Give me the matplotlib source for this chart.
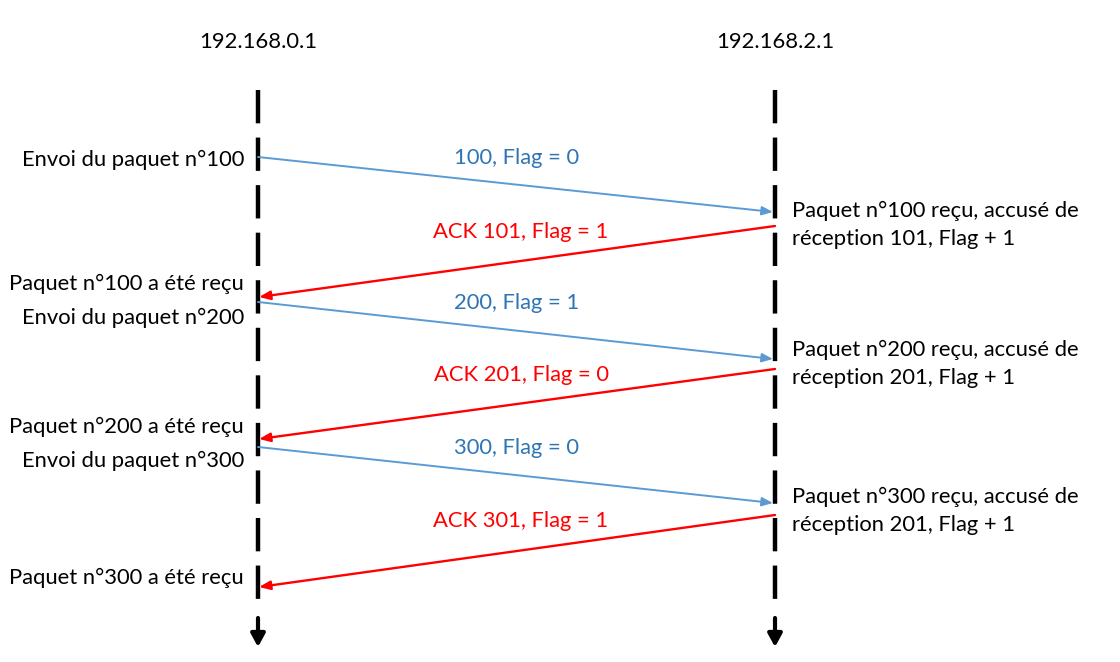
import matplotlib
matplotlib.use("Agg")
import matplotlib.pyplot as plt

hosts = ["192.168.0.1", "192.168.2.1"]
host_x = [258, 775]

# messages: direction (0 -> left to right, 1 -> right to left), send time, receive time
msg_labels = ["100, Flag = 0", "ACK 101, Flag = 1", "200, Flag = 1",
              "ACK 201, Flag = 0", "300, Flag = 0", "ACK 301, Flag = 1"]
msg_dir = [0, 1, 0, 1, 0, 1]
msg_start = [157, 226, 302, 369, 447, 515]
msg_end = [212, 297, 359, 439, 503, 587]

left_notes = ["Envoi du paquet n°100", "Paquet n°100 a été reçu", "Envoi du paquet n°200",
              "Paquet n°200 a été reçu", "Envoi du paquet n°300", "Paquet n°300 a été reçu"]
left_note_y = [160, 284, 318, 427, 461, 578]

right_notes = ["Paquet n°100 reçu, accusé de\nréception 101, Flag + 1",
               "Paquet n°200 reçu, accusé de\nréception 201, Flag + 1",
               "Paquet n°300 reçu, accusé de\nréception 201, Flag + 1"]
right_note_y = [225, 364, 511]

BLUE_LINE = "#5B9BD5"
BLUE_TEXT = "#2E75B6"
RED = "#FF0000"
FONT = "Lato"
FS = 15.8

fig = plt.figure(figsize=(11.2, 6.62), dpi=100)
ax = fig.add_axes([0, 0, 1, 1])
ax.set_xlim(0, 1120)
ax.set_ylim(662, 0)
ax.axis("off")

# lifelines
for name, x in zip(hosts, host_x):
    ax.plot([x, x], [90, 606], color="black", lw=3.2, linestyle=(0, (7.5, 3.2)), solid_capstyle="butt")
    ax.annotate("", xy=(x, 647), xytext=(x, 618),
                arrowprops=dict(arrowstyle="-|>,head_length=0.55,head_width=0.3", color="black", lw=3.0,
                                shrinkA=0, shrinkB=0, mutation_scale=14))
    ax.text(x, 42, name, ha="center", va="center", fontsize=FS, family=FONT)

# messages
for lab, d, s, e in zip(msg_labels, msg_dir, msg_start, msg_end):
    if d == 0:
        x0, x1 = host_x[0], host_x[1] - 2
        col, tcol, lw = BLUE_LINE, BLUE_TEXT, 1.4
    else:
        x0, x1 = host_x[1], host_x[0] + 1
        col, tcol, lw = RED, RED, 1.7
    ax.annotate("", xy=(x1, e), xytext=(x0, s),
                arrowprops=dict(arrowstyle="-|>,head_length=0.55,head_width=0.22", color=col, lw=lw,
                                shrinkA=0, shrinkB=0, mutation_scale=12))
    tx = 517 if d == 0 else 521
    ty = s + 1 if d == 0 else s + 6
    ax.text(tx, ty, lab, ha="center", va="center", fontsize=FS, family=FONT, color=tcol)

for t, y in zip(left_notes, left_note_y):
    ax.text(244, y, t, ha="right", va="center", fontsize=FS, family=FONT)

for t, y in zip(right_notes, right_note_y):
    ax.text(792, y, t, ha="left", va="center", fontsize=FS, family=FONT, linespacing=1.5)

fig.savefig("out.png", dpi=100)
